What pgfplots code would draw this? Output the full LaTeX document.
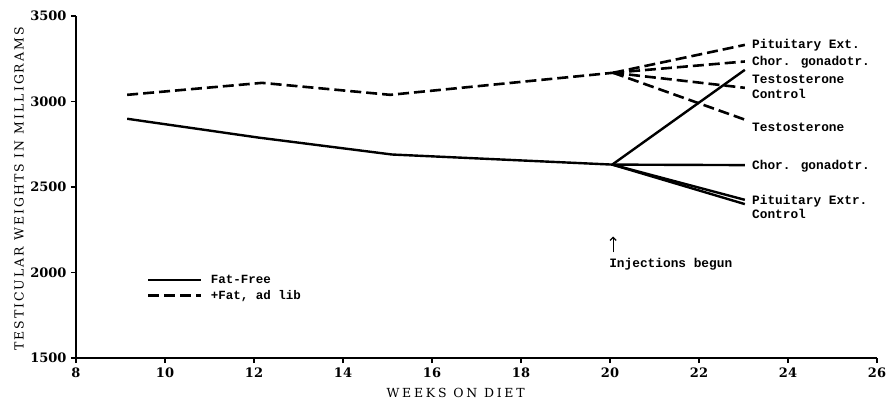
\documentclass[border=0pt]{standalone}
\usepackage{fontspec}
\setmainfont{DejaVu Serif}
\newfontfamily\tickfont{DejaVu Serif}[BoldFont={DejaVu Serif Bold}]
\newfontfamily\labfont{DejaVu Serif}[LetterSpace=22]
\newfontfamily\ylabfont{DejaVu Serif}[LetterSpace=16]
\newfontfamily\typfont{Liberation Mono}
\usepackage{pgfplots}
\pgfplotsset{compat=1.18}
\usetikzlibrary{arrows.meta}
\tikzset{sol/.style={solid, line width=2.4bp, black}, dsh/.style={line width=2.6bp, black, dash pattern=on 11bp off 5bp}}
\begin{document}
\begin{tikzpicture}
\begin{axis}[
  name=ax,
  at={(0,0)}, anchor=south west,
  scale only axis,
  width=801bp, height=342bp,
  xmin=8, xmax=26, ymin=1500, ymax=3500,
  axis lines=left,
  axis line style={-, line width=2.2bp},
  xtick={8,10,...,26},
  ytick={1500,2000,...,3500},
  tick align=outside,
  major tick length=5bp,
  tick style={line width=1.5bp, black},
  /pgf/number format/assume math mode=true,
  /pgf/number format/1000 sep={},
  ticklabel style={font=\fontsize{13bp}{14bp}\tickfont\bfseries},
  xticklabel style={yshift=-1bp},
  yticklabel style={xshift=-1bp},
  xlabel={WEEKS ON DIET},
  ylabel={TESTICULAR WEIGHTS IN MILLIGRAMS},
  xlabel style={at={(axis description cs:0.474,-0.102)}, anchor=center, font=\fontsize{12.5bp}{14bp}\labfont},
  ylabel style={at={(axis description cs:-0.0712,0.494)}, anchor=center, font=\fontsize{12.5bp}{14bp}\ylabfont},
  clip=false,
  legend style={at={(axis description cs:0.0886,0.2485)}, anchor=north west, draw=none, fill=none, inner sep=0pt, row sep=1bp,
    font=\fontsize{12.5bp}{14bp}\typfont\bfseries},
  legend cell align=left,
  legend image code/.code={\draw[#1] (0bp,0bp) -- (53bp,0bp);},
]
\addplot[sol] coordinates {(9.15,2899) (12.1,2789) (15.1,2690) (20.05,2631)};
\addlegendentry{\hspace{6bp}Fat-Free}
\addplot[dsh] coordinates {(9.15,3039) (12.18,3109) (15.06,3039) (20.07,3168)};
\addlegendentry{\hspace{6bp}+Fat, ad lib}
% fat-free branches
\addplot[sol, forget plot] coordinates {(20.05,2631) (23.03,3185)};
\addplot[sol, forget plot] coordinates {(20.05,2631) (23.03,2628)};
\addplot[sol, forget plot] coordinates {(20.05,2631) (23.03,2425)};
\addplot[sol, forget plot] coordinates {(20.05,2631) (23.03,2400)};
% +fat branches
\addplot[dsh, forget plot] coordinates {(20.07,3168) (23.03,3331)};
\addplot[dsh, forget plot] coordinates {(20.07,3168) (23.03,3234)};
\addplot[dsh, forget plot] coordinates {(20.07,3168) (23.03,3080)};
\addplot[dsh, forget plot] coordinates {(20.07,3168) (23.03,2894)};
% labels
\begin{scope}[every node/.style={anchor=west, inner sep=0pt, font=\fontsize{12.8bp}{14bp}\typfont\bfseries}]
\node at (axis cs:23.19,3331) {Pituitary Ext.};
\node at (axis cs:23.19,3232) {Chor. gonadotr.};
\node at (axis cs:23.19,3128) {Testosterone};
\node at (axis cs:23.19,3045) {Control};
\node at (axis cs:23.19,2847) {Testosterone};
\node at (axis cs:23.19,2620) {Chor. gonadotr.};
\node at (axis cs:23.19,2416) {Pituitary Extr.};
\node at (axis cs:23.19,2340) {Control};
\node at (axis cs:19.98,2048) {Injections begun};
\end{scope}
\draw[line width=1.2bp, -{Straight Barb[length=3bp,width=6bp]}] (axis cs:20.07,2118) -- (axis cs:20.07,2210);
\end{axis}
\pgfresetboundingbox
\path (ax.south west) +(-76bp,-43bp) rectangle +(811bp,358bp);
\end{tikzpicture}
\end{document}
